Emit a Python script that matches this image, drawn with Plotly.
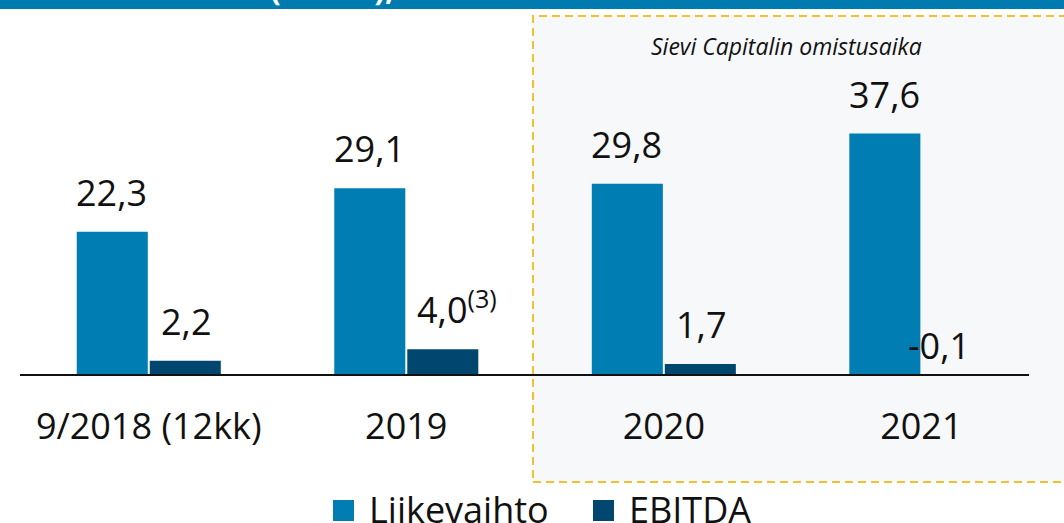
import plotly.graph_objects as go

categories = ["9/2018 (12kk)", "2019", "2020", "2021"]
liikevaihto = [22.3, 29.1, 29.8, 37.6]
ebitda = [2.2, 4.0, 1.7, -0.1]
lv_labels = ["22,3", "29,1", "29,8", "37,6"]
eb_labels = ["2,2", "4,0<sup>(3)</sup>", "1,7", "-0,1"]
series_names = ["Liikevaihto", "EBITDA"]
box_text = "Sievi Capitalin omistusaika"
title_text = "(MEUR),"

C_LV = "#007db2"
C_EB = "#00466f"
FONT = "Open Sans"

W, H = 1064, 523
ML, MR, MT, MB = 20, 35, 20, 53
PW = W - ML - MR
PH = H - MT - MB

def px_x(p):
    return (p - ML) / PW

def px_y(p):
    return (H - MB - p) / PH

fig = go.Figure()
fig.add_trace(go.Bar(x=categories, y=liikevaihto, name=series_names[0],
                     marker=dict(color=C_LV, line=dict(width=0)), showlegend=False))
fig.add_trace(go.Bar(x=categories, y=ebitda, name=series_names[1],
                     marker=dict(color=C_EB, line=dict(width=0)), showlegend=False))

ymin, ymax = -14.8, 55.3
zero_pos = (0 - ymin) / (ymax - ymin)

annotations = []
for i, c in enumerate(categories):
    annotations.append(dict(x=i, y=liikevaihto[i], xref="x", yref="y", text=lv_labels[i],
                            showarrow=False, yanchor="bottom", xshift=-37, yshift=13,
                            font=dict(family=FONT, size=36, color="#111111")))
    v = ebitda[i]
    if v >= 0:
        xs = 37 + (14 if "sup" in eb_labels[i] else 0)
        annotations.append(dict(x=i, y=v, xref="x", yref="y", text=eb_labels[i],
                                showarrow=False, yanchor="bottom", xshift=xs, yshift=13,
                                font=dict(family=FONT, size=36, color="#111111")))
    else:
        annotations.append(dict(x=i, y=0, xref="x", yref="y", text=eb_labels[i],
                                showarrow=False, yanchor="bottom", xshift=18, yshift=3,
                                font=dict(family=FONT, size=36, color="#111111")))

annotations.append(dict(x=px_x(786), y=px_y(46), xref="paper", yref="paper", text=box_text,
                        showarrow=False, xanchor="center", yanchor="middle",
                        font=dict(family=FONT, size=23, color="#111111", style="italic")))
annotations.append(dict(x=px_x(268), y=px_y(11), xref="paper", yref="paper", text="<b>" + title_text + "</b>",
                        showarrow=False, xanchor="left", yanchor="bottom",
                        font=dict(family=FONT, size=32, color="#ffffff")))
# manual legend
leg = [(333, 367, C_LV, series_names[0]), (593, 627, C_EB, series_names[1])]
shapes = []
for sx, tx, col, name in leg:
    shapes.append(dict(type="rect", xref="paper", yref="paper", x0=px_x(sx), x1=px_x(sx + 21),
                       y0=px_y(521), y1=px_y(500), fillcolor=col, line=dict(width=0)))
    annotations.append(dict(x=px_x(tx), y=px_y(509), xref="paper", yref="paper", text=name,
                            showarrow=False, xanchor="left", yanchor="middle",
                            font=dict(family=FONT, size=36, color="#111111")))

shapes.insert(0, dict(type="rect", xref="paper", yref="paper", x0=px_x(533), x1=px_x(1100),
                      y0=px_y(482), y1=px_y(16), fillcolor="#f7f8fa",
                      line=dict(color="#f2c12e", width=2, dash="8px,5px"), layer="below"))

fig.update_layout(
    width=W, height=H,
    margin=dict(l=ML, r=MR, t=MT, b=MB),
    paper_bgcolor="#ffffff", plot_bgcolor="rgba(0,0,0,0)",
    barmode="group", bargap=0.433, bargroupgap=0.027,
    annotations=annotations, shapes=shapes,
    font=dict(family=FONT, color="#111111"),
    xaxis=dict(type="category", range=[-0.5, 3.418], anchor="free", position=zero_pos,
               showline=True, linecolor="#111111", linewidth=2, showgrid=False, zeroline=False,
               ticks="outside", ticklen=20, tickcolor="rgba(0,0,0,0)",
               tickfont=dict(family=FONT, size=36, color="#111111")),
    yaxis=dict(range=[ymin, ymax], visible=False, showgrid=False, zeroline=False),
)
fig.add_shape(type="rect", xref="paper", yref="paper", x0=px_x(-10), x1=px_x(1100),
              y0=px_y(9), y1=px_y(-10), fillcolor="#007bb0", line=dict(width=0), layer="below")

fig.write_html("out.html", config={"displayModeBar": False},
               post_script="document.body.style.margin='0';document.body.style.overflow='hidden';")
